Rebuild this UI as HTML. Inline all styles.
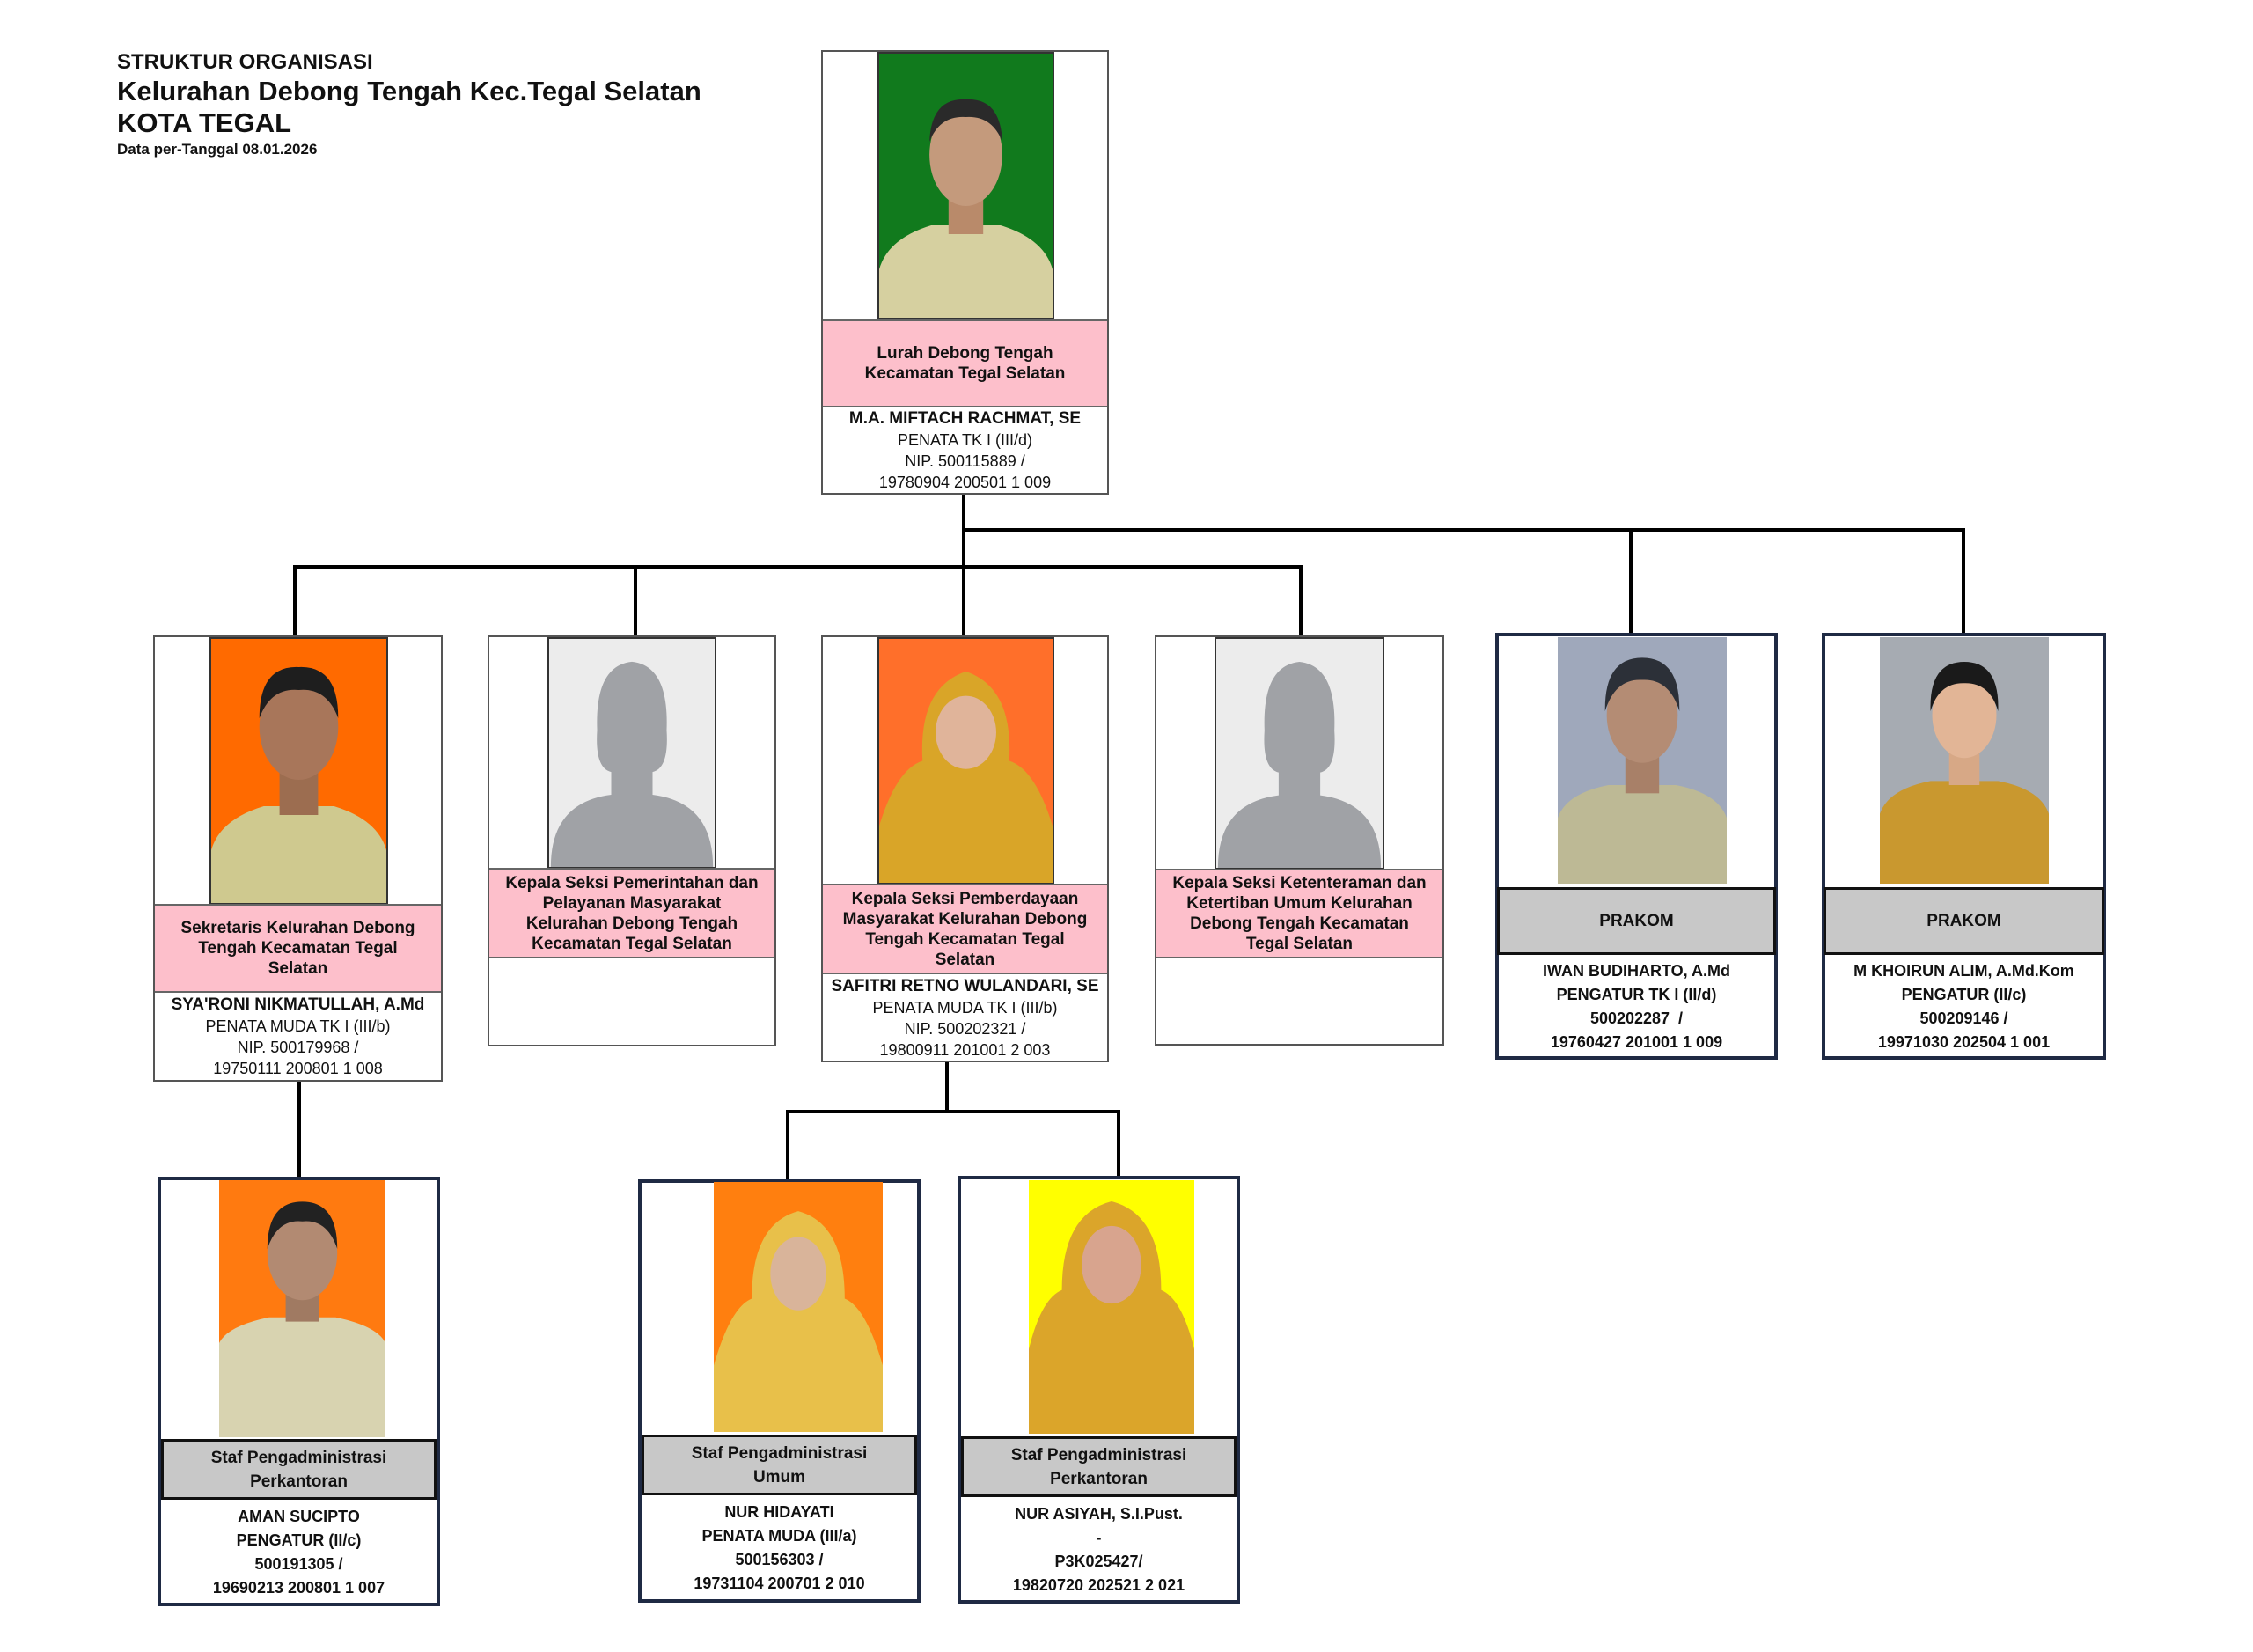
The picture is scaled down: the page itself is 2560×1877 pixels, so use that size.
<!DOCTYPE html>
<html><head><meta charset="utf-8">
<style>
*{margin:0;padding:0;box-sizing:border-box}
body{width:2560px;height:1877px;background:#fff;position:relative;overflow:hidden;font-family:"Liberation Sans",sans-serif;color:#111}
.a{position:absolute}
.card{position:absolute;background:#fff;border:2px solid #555}
.nv{border:4px solid #1f2a44}
.ph{position:absolute;overflow:hidden}
.ph svg{width:100%;height:100%;display:block}
.band{position:absolute;display:flex;flex-direction:column;align-items:center;justify-content:center;text-align:center}
.pink{background:#fdbfcb;border-top:2px solid #666;border-bottom:2px solid #666;font-weight:bold;font-size:19px;line-height:23px}
.gray{background:#c8c8c8;border:3px solid #111;font-weight:bold;font-size:19px;line-height:27px}
.info{font-size:18px;line-height:24px}
.info b{font-size:19px}
.binfo{font-weight:bold;font-size:18px;line-height:27px}
.h{position:absolute;background:#000;height:4px}
.v{position:absolute;background:#000;width:4px}
</style></head><body>

<div class="a" style="left:133px;top:57px;font-weight:bold;font-size:24px">STRUKTUR ORGANISASI</div>
<div class="a" style="left:133px;top:86px;font-weight:bold;font-size:31px">Kelurahan Debong Tengah Kec.Tegal Selatan</div>
<div class="a" style="left:133px;top:122px;font-weight:bold;font-size:31px">KOTA TEGAL</div>
<div class="a" style="left:133px;top:160px;font-weight:bold;font-size:17px">Data per-Tanggal 08.01.2026</div>

<!-- connectors -->
<div class="v" style="left:1093px;top:561px;height:84px"></div>
<div class="h" style="left:1093px;top:600px;width:1140px"></div>
<div class="v" style="left:1851px;top:600px;height:120px"></div>
<div class="v" style="left:2229px;top:600px;height:120px"></div>
<div class="h" style="left:333px;top:642px;width:1147px"></div>
<div class="v" style="left:333px;top:642px;height:82px"></div>
<div class="v" style="left:720px;top:642px;height:82px"></div>
<div class="v" style="left:1093px;top:642px;height:82px"></div>
<div class="v" style="left:1476px;top:642px;height:82px"></div>
<div class="v" style="left:338px;top:1228px;height:110px"></div>
<div class="v" style="left:1074px;top:1206px;height:58px"></div>
<div class="h" style="left:893px;top:1261px;width:380px"></div>
<div class="v" style="left:893px;top:1261px;height:80px"></div>
<div class="v" style="left:1269px;top:1261px;height:76px"></div>

<!-- top card -->
<div class="card" style="left:933px;top:57px;width:327px;height:505px"></div>
<div class="ph" style="left:997px;top:59px;width:201px;height:304px;border:2px solid #333"><svg viewBox="0 0 200 300" preserveAspectRatio="none"><rect width="200" height="300" fill="#117a1d"/><path d="M0 300 L0 245 Q10 210 60 195 L140 195 Q190 210 200 245 L200 300Z" fill="#d6d0a0"/><rect x="80" y="160" width="40" height="45" fill="#b98a6a"/><ellipse cx="100" cy="115" rx="42" ry="58" fill="#c49a7c"/><path d="M58 100 Q60 50 100 52 Q140 50 142 100 Q130 70 100 72 Q70 70 58 100Z" fill="#2a2a2a"/></svg></div>
<div class="band pink" style="left:935px;top:363px;width:323px;height:100px">Lurah Debong Tengah<br>Kecamatan Tegal Selatan</div>
<div class="band info" style="left:935px;top:464px;width:323px;height:96px"><b>M.A. MIFTACH RACHMAT, SE</b>PENATA TK I (III/d)<br>NIP. 500115889 /<br>19780904 200501 1 009</div>

<!-- card1 -->
<div class="card" style="left:174px;top:722px;width:329px;height:507px"></div>
<div class="ph" style="left:238px;top:724px;width:203px;height:304px;border:2px solid #333"><svg viewBox="0 0 200 300" preserveAspectRatio="none"><rect width="200" height="300" fill="#ff6a00"/><path d="M0 300 L0 240 Q10 205 60 190 L140 190 Q190 205 200 240 L200 300Z" fill="#cfc98f"/><rect x="78" y="150" width="44" height="50" fill="#9c6d50"/><ellipse cx="100" cy="100" rx="45" ry="60" fill="#a8765a"/><path d="M55 90 Q55 30 100 32 Q145 30 145 90 Q132 55 100 58 Q68 55 55 90Z" fill="#1e1e1e"/></svg></div>
<div class="band pink" style="left:176px;top:1027px;width:325px;height:101px">Sekretaris Kelurahan Debong<br>Tengah Kecamatan Tegal<br>Selatan</div>
<div class="band info" style="left:176px;top:1129px;width:325px;height:98px"><b>SYA'RONI NIKMATULLAH, A.Md</b>PENATA MUDA TK I (III/b)<br>NIP. 500179968 /<br>19750111 200801 1 008</div>

<!-- card2 -->
<div class="card" style="left:554px;top:722px;width:328px;height:467px"></div>
<div class="ph" style="left:622px;top:724px;width:192px;height:263px;border:2px solid #333"><svg viewBox="0 0 200 300" preserveAspectRatio="none"><rect width="200" height="300" fill="#ececec"/><path d="M2 300 Q2 215 75 205 L75 175 Q55 170 58 120 Q55 35 100 30 Q145 35 142 120 Q145 170 125 175 L125 205 Q198 215 198 300Z" fill="#a0a2a6"/></svg></div>
<div class="band pink" style="left:556px;top:986px;width:324px;height:103px">Kepala Seksi Pemerintahan dan<br>Pelayanan Masyarakat<br>Kelurahan Debong Tengah<br>Kecamatan Tegal Selatan</div>

<!-- card3 -->
<div class="card" style="left:933px;top:722px;width:327px;height:485px"></div>
<div class="ph" style="left:997px;top:724px;width:201px;height:281px;border:2px solid #333"><svg viewBox="0 0 200 300" preserveAspectRatio="none"><rect width="200" height="300" fill="#ff6f2a"/><path d="M0 300 L0 230 Q20 160 50 150 Q45 60 100 40 Q155 60 150 150 Q180 160 200 230 L200 300Z" fill="#d9a528"/><ellipse cx="100" cy="115" rx="35" ry="45" fill="#e0b49a"/></svg></div>
<div class="band pink" style="left:935px;top:1004px;width:323px;height:103px">Kepala Seksi Pemberdayaan<br>Masyarakat Kelurahan Debong<br>Tengah Kecamatan Tegal<br>Selatan</div>
<div class="band info" style="left:935px;top:1108px;width:323px;height:97px"><b>SAFITRI RETNO WULANDARI, SE</b>PENATA MUDA TK I (III/b)<br>NIP. 500202321 /<br>19800911 201001 2 003</div>

<!-- card4 -->
<div class="card" style="left:1312px;top:722px;width:329px;height:466px"></div>
<div class="ph" style="left:1380px;top:724px;width:193px;height:264px;border:2px solid #333"><svg viewBox="0 0 200 300" preserveAspectRatio="none"><rect width="200" height="300" fill="#ececec"/><path d="M2 300 Q2 215 75 205 L75 175 Q55 170 58 120 Q55 35 100 30 Q145 35 142 120 Q145 170 125 175 L125 205 Q198 215 198 300Z" fill="#a0a2a6"/></svg></div>
<div class="band pink" style="left:1314px;top:987px;width:325px;height:102px">Kepala Seksi Ketenteraman dan<br>Ketertiban Umum Kelurahan<br>Debong Tengah Kecamatan<br>Tegal Selatan</div>

<!-- card5 prakom -->
<div class="card nv" style="left:1699px;top:719px;width:321px;height:485px"></div>
<div class="ph" style="left:1770px;top:724px;width:192px;height:280px"><svg viewBox="0 0 200 300" preserveAspectRatio="none"><rect width="200" height="300" fill="#9fa8bb"/><path d="M0 300 L0 220 Q10 190 60 180 L140 180 Q190 190 200 220 L200 300Z" fill="#bdb995"/><rect x="80" y="140" width="40" height="50" fill="#a88068"/><ellipse cx="100" cy="95" rx="42" ry="58" fill="#b48c74"/><path d="M56 90 Q55 25 100 25 Q145 25 144 90 Q132 50 100 52 Q68 50 56 90Z" fill="#2c3038"/></svg></div>
<div class="band gray" style="left:1701px;top:1008px;width:317px;height:77px">PRAKOM</div>
<div class="band binfo" style="left:1703px;top:1088px;width:313px;height:112px">IWAN BUDIHARTO, A.Md<br>PENGATUR TK I (II/d)<br>500202287&nbsp; /<br>19760427 201001 1 009</div>

<!-- card6 prakom -->
<div class="card nv" style="left:2070px;top:719px;width:323px;height:485px"></div>
<div class="ph" style="left:2136px;top:724px;width:192px;height:280px"><svg viewBox="0 0 200 300" preserveAspectRatio="none"><rect width="200" height="300" fill="#a6abb2"/><path d="M0 300 L0 215 Q10 185 60 175 L140 175 Q190 185 200 215 L200 300Z" fill="#c9982f"/><rect x="82" y="135" width="36" height="45" fill="#d7a886"/><ellipse cx="100" cy="95" rx="38" ry="52" fill="#e2b596"/><path d="M60 90 Q58 30 100 30 Q142 30 140 90 Q130 55 100 56 Q70 55 60 90Z" fill="#1a1a1a"/></svg></div>
<div class="band gray" style="left:2072px;top:1008px;width:319px;height:77px">PRAKOM</div>
<div class="band binfo" style="left:2074px;top:1088px;width:315px;height:112px">M KHOIRUN ALIM, A.Md.Kom<br>PENGATUR (II/c)<br>500209146 /<br>19971030 202504 1 001</div>

<!-- card7 -->
<div class="card nv" style="left:179px;top:1337px;width:321px;height:488px"></div>
<div class="ph" style="left:249px;top:1341px;width:189px;height:292px"><svg viewBox="0 0 200 300" preserveAspectRatio="none"><rect width="200" height="300" fill="#ff7a10"/><path d="M0 300 L0 190 Q10 170 60 160 L140 160 Q190 170 200 190 L200 300Z" fill="#d8d3b0"/><rect x="80" y="120" width="40" height="45" fill="#a07a62"/><ellipse cx="100" cy="85" rx="42" ry="55" fill="#b28a72"/><path d="M58 80 Q58 25 100 25 Q142 25 142 80 Q130 45 100 48 Q70 45 58 80Z" fill="#222"/></svg></div>
<div class="band gray" style="left:183px;top:1635px;width:313px;height:69px">Staf Pengadministrasi<br>Perkantoran</div>
<div class="band binfo" style="left:183px;top:1706px;width:313px;height:115px">AMAN SUCIPTO<br>PENGATUR (II/c)<br>500191305 /<br>19690213 200801 1 007</div>

<!-- card8 -->
<div class="card nv" style="left:725px;top:1340px;width:321px;height:481px"></div>
<div class="ph" style="left:811px;top:1343px;width:192px;height:284px"><svg viewBox="0 0 200 300" preserveAspectRatio="none"><rect width="200" height="300" fill="#ff7f0f"/><path d="M0 300 L0 220 Q20 150 45 140 Q45 50 100 35 Q155 50 155 140 Q180 150 200 220 L200 300Z" fill="#e8c04a"/><ellipse cx="100" cy="110" rx="33" ry="44" fill="#d9b49a"/></svg></div>
<div class="band gray" style="left:729px;top:1630px;width:313px;height:69px">Staf Pengadministrasi<br>Umum</div>
<div class="band binfo" style="left:729px;top:1701px;width:313px;height:116px">NUR HIDAYATI<br>PENATA MUDA (III/a)<br>500156303 /<br>19731104 200701 2 010</div>

<!-- card9 -->
<div class="card nv" style="left:1088px;top:1336px;width:321px;height:486px"></div>
<div class="ph" style="left:1169px;top:1341px;width:188px;height:288px"><svg viewBox="0 0 200 300" preserveAspectRatio="none"><rect width="200" height="300" fill="#ffff00"/><path d="M0 300 L0 200 Q15 140 40 130 Q40 40 100 25 Q160 40 160 130 Q185 140 200 200 L200 300Z" fill="#dba52a"/><ellipse cx="100" cy="100" rx="36" ry="46" fill="#d8a48e"/></svg></div>
<div class="band gray" style="left:1092px;top:1632px;width:313px;height:69px">Staf Pengadministrasi<br>Perkantoran</div>
<div class="band binfo" style="left:1092px;top:1703px;width:313px;height:115px">NUR ASIYAH, S.I.Pust.<br>-<br>P3K025427/<br>19820720 202521 2 021</div>

</body></html>
